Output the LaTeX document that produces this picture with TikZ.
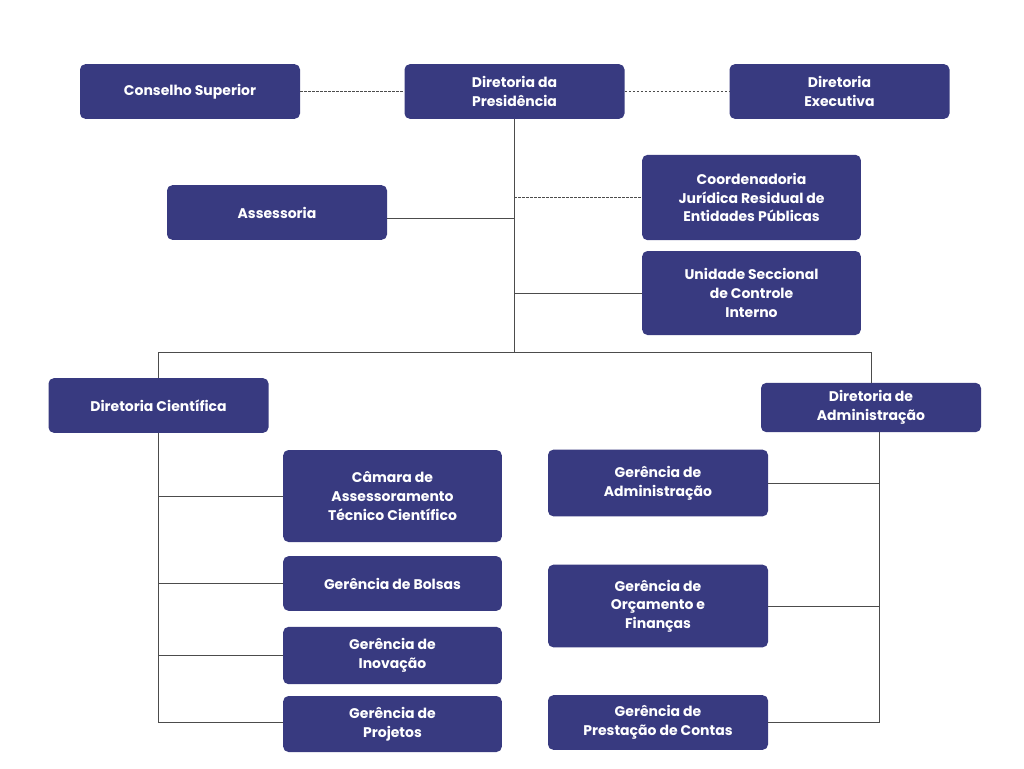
\documentclass[tikz,border=0pt]{standalone}
\usepackage{fontspec}
\setmainfont{Poppins}
\usetikzlibrary{positioning}
\definecolor{boxblue}{HTML}{383A80}
\tikzset{
  unit/.style={draw=none, fill=boxblue, rounded corners=4pt, text=white,
    font=\bfseries\fontsize{10.5}{14}\selectfont, align=center,
    minimum width=165pt, inner sep=0pt},
  link/.style={draw=black!70, line width=0.6pt},
  dlink/.style={link, dashed, dash pattern=on 2pt off 1pt}
}
\begin{document}
\begin{tikzpicture}[x=0.75pt,y=-0.75pt]
  \useasboundingbox (0,0) rectangle (1024,768);
  \node [unit, minimum height=41pt] (cons) at (190,91.5) {Conselho Superior};
  \node [unit, minimum height=41pt] (pres) at (514.5,91.5) {Diretoria da\\Presidência};
  \node [unit, minimum height=41pt] (exec) at (839.5,91.5) {Diretoria\\Executiva};
  \node [unit, minimum height=41pt] (asse) at (277,212.5) {Assessoria};
  \node [unit, minimum height=64pt, minimum width=164pt] (coord) at (751.5,197.5) {Coordenadoria\\Jurídica Residual de\\Entidades Públicas};
  \node [unit, minimum height=63pt, minimum width=164pt] (usci) at (751.5,293) {Unidade Seccional\\de Controle\\Interno};
  \node [unit, minimum height=41pt] (dcie) at (158.5,405.5) {Diretoria Científica};
  \node [unit, minimum height=37pt] (dadm) at (871,407.5) {Diretoria de\\Administração};
  \node [unit, minimum height=69pt, minimum width=164pt] (cama) at (392.5,496) {Câmara de\\Assessoramento\\Técnico Científico};
  \node [unit, minimum height=41pt, minimum width=164pt] (bols) at (392.5,583.5) {Gerência de Bolsas};
  \node [unit, minimum height=43pt, minimum width=164pt] (inov) at (392.5,655.5) {Gerência de\\Inovação};
  \node [unit, minimum height=42pt, minimum width=164pt] (proj) at (392.5,724) {Gerência de\\Projetos};
  \node [unit, minimum height=50pt] (gadm) at (658,483) {Gerência de\\Administração};
  \node [unit, minimum height=62pt] (gorc) at (658,606) {Gerência de\\Orçamento e\\Finanças};
  \node [unit, minimum height=41pt] (gpre) at (658,722.5) {Gerência de\\Prestação de Contas};

  % upper level
  \coordinate (top) at (514,352);
  \draw [dlink] (cons.east) -- (pres.west);
  \draw [dlink] (pres.east) -- (exec.west);
  \draw [link] (pres.south -| top) -- (top);
  \draw [dlink] (top |- coord.west) -- (coord.west);
  \draw [link] (asse.east |- 0,218) -- (top |- 0,218);
  \draw [link] (top |- usci.west) -- (usci.west);
  \draw [link] (dcie.north) -- (dcie.north |- top) -- (dadm.north |- top) -- (dadm.north);

  % left spine
  \coordinate (lend) at (158,722);
  \draw [link] (dcie.south -| lend) -- (lend) -- (proj.west |- lend);
  \foreach \n in {cama,bols,inov}
    \draw [link] (lend |- \n.west) -- (\n.west);

  % right spine
  \coordinate (rend) at (879,722);
  \draw [link] (dadm.south -| rend) -- (rend) -- (gpre.east |- rend);
  \foreach \n in {gadm,gorc}
    \draw [link] (rend |- \n.east) -- (\n.east);
\end{tikzpicture}
\end{document}
